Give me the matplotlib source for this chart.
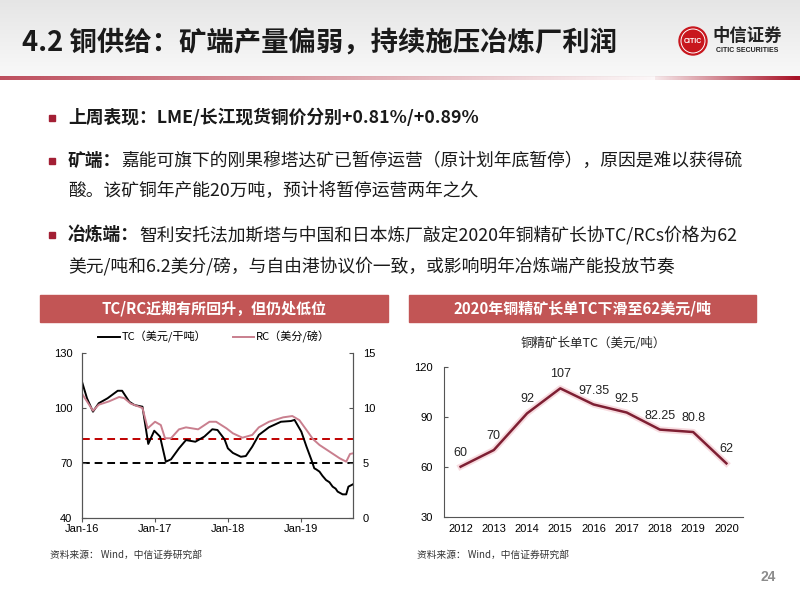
import matplotlib

matplotlib.use('Agg')
import matplotlib.dates as mdates
import matplotlib.pyplot as plt
import numpy as np
import pandas as pd
from matplotlib.patches import Circle, Rectangle

plt.rcParams['font.family'] = ['Noto Sans CJK SC', 'DejaVu Sans']
NUM_FONT = ['Liberation Sans', 'Noto Sans CJK SC', 'DejaVu Sans']

# ---- left chart: TC / RC spot ----
tc_dates = ['2016-01-01', '2016-01-26', '2016-02-25', '2016-03-25', '2016-05-08',
            '2016-06-28', '2016-07-20', '2016-08-25', '2016-09-20', '2016-10-30',
            '2016-11-28', '2016-12-28', '2017-01-26', '2017-02-24', '2017-03-22',
            '2017-05-01', '2017-06-05', '2017-07-22', '2017-09-05', '2017-10-15',
            '2017-11-10', '2017-12-15', '2018-01-01', '2018-01-26', '2018-03-07',
            '2018-04-01', '2018-05-03', '2018-06-05', '2018-07-26', '2018-09-24',
            '2018-11-13', '2018-12-01', '2019-01-04', '2019-01-30', '2019-02-24',
            '2019-03-10', '2019-03-20', '2019-04-05', '2019-04-20', '2019-05-08',
            '2019-05-25', '2019-06-10', '2019-06-25', '2019-07-05', '2019-07-30',
            '2019-08-17', '2019-08-28', '2019-09-20']
tc_values = [114.3, 105.3, 98.0, 102.6, 105.3,
             109.4, 109.4, 103.4, 101.6, 100.7,
             80.4, 87.6, 84.4, 70.7, 72.0,
             78.0, 82.5, 81.6, 84.4, 88.4,
             88.0, 83.0, 78.0, 75.5, 73.4,
             73.8, 78.9, 85.3, 89.5, 92.5,
             92.9, 93.5, 87.1, 78.9, 71.6,
             67.1, 66.5, 65.3, 63.0, 60.7,
             59.5, 57.1, 56.0, 54.4, 52.9,
             52.9, 57.1, 58.4]

rc_dates = ['2016-01-01', '2016-01-26', '2016-02-25', '2016-03-25', '2016-05-15',
            '2016-07-05', '2016-07-30', '2016-09-01', '2016-10-30', '2016-11-25',
            '2017-01-01', '2017-01-30', '2017-02-20', '2017-03-22', '2017-05-01',
            '2017-06-05', '2017-08-05', '2017-10-01', '2017-11-03', '2017-12-25',
            '2018-01-26', '2018-03-15', '2018-05-03', '2018-06-05', '2018-07-26',
            '2018-10-05', '2018-11-20', '2018-12-25', '2019-01-30', '2019-03-03',
            '2019-04-05', '2019-05-26', '2019-07-15', '2019-08-17', '2019-09-05',
            '2019-09-20']
rc_values = [11.3, 10.6, 9.75, 10.3, 10.6,
             11.0, 10.9, 10.4, 10.0, 8.15,
             8.75, 8.45, 7.25, 7.25, 8.06,
             8.24, 8.06, 8.75, 8.75, 8.15,
             7.7, 7.3, 7.55, 8.24, 8.75,
             9.15, 9.27, 8.9, 8.0, 7.18,
             6.64, 6.03, 5.43, 5.12, 5.82,
             5.88]

tc_floor = 70      # black dashed, left axis
rc_floor = 83      # red dashed, left axis

# ---- right chart: annual benchmark TC ----
years = ['2012', '2013', '2014', '2015', '2016', '2017', '2018', '2019', '2020']
benchmark_tc = [60, 70, 92, 107, 97.35, 92.5, 82.25, 80.8, 62]

title = '4.2 铜供给：矿端产量偏弱，持续施压冶炼厂利润'
bullets = [
    ('上周表现：LME/长江现货铜价分别+0.81%/+0.89%', ''),
    ('矿端：', '嘉能可旗下的刚果穆塔达矿已暂停运营（原计划年底暂停），原因是难以获得硫'),
    (None, '酸。该矿铜年产能20万吨，预计将暂停运营两年之久'),
    ('冶炼端：', '智利安托法加斯塔与中国和日本炼厂敲定2020年铜精矿长协TC/RCs价格为62'),
    (None, '美元/吨和6.2美分/磅，与自由港协议价一致，或影响明年冶炼端产能投放节奏'),
]
bullet_y = [117.5, 160.5, 190.5, 235, 266.5]

RED = '#A31F34'
BANNER = '#C25555'

fig = plt.figure(figsize=(8, 6), dpi=100)
fig.patch.set_facecolor('white')

# pixel-space canvas for the slide decoration
bg = fig.add_axes([0, 0, 1, 1], zorder=0)
bg.set_xlim(0, 800)
bg.set_ylim(600, 0)
bg.axis('off')

# header shading and the fading red rule
shade = np.linspace(0.90, 0.975, 60)[:, None, None] * np.ones((1, 2, 3))
bg.imshow(shade, extent=[0, 800, 77, 0], aspect='auto', zorder=0)
xs = np.arange(800)
alpha = np.where(xs < 655, 0.75 - 0.72 * xs / 655,
                 np.clip(0.1 + 0.9 * (xs - 655) / 140, 0, 1))
rule = np.zeros((1, 800, 4))
rule[..., 0], rule[..., 1], rule[..., 2] = 0.66, 0.08, 0.16
rule[..., 3] = alpha
bg.imshow(rule, extent=[0, 800, 80, 76], aspect='auto', zorder=1)

bg.text(22, 44, title, fontsize=19.7, weight='bold', va='center', color='#1a1a1a')

# logo
bg.add_patch(Circle((693, 41), 14, color='#C8161D', zorder=2))
bg.add_patch(Circle((693, 41), 12, fill=False, ec='white', lw=0.7, zorder=3))
bg.text(693, 41.5, 'CITIC', fontsize=5, weight='bold', color='white',
        ha='center', va='center', family=['Liberation Sans Narrow'] + NUM_FONT, zorder=4)
bg.text(747.5, 36, '中信证券', fontsize=12.5, weight='bold', color='#222222',
        ha='center', va='center')
bg.text(747.5, 50, 'CITIC SECURITIES', fontsize=5, weight='bold', color='#222222',
        ha='center', va='center', family=NUM_FONT)

# bullet text
renderer = fig.canvas.get_renderer()
for (head, body), y in zip(bullets, bullet_y):
    x0 = 68
    if head is not None:
        bg.add_patch(Rectangle((49, y - 3), 6, 6, color=RED))
        t = bg.text(x0, y, head, fontsize=12.8, weight='bold', va='center', color='#1a1a1a')
        x0 += t.get_window_extent(renderer=renderer).width
    if body:
        bg.text(x0, y, body, fontsize=12.8, va='center', color='#1a1a1a')

# chart banners
for x0, x1, label in [(40, 388, 'TC/RC近期有所回升，但仍处低位'),
                      (409, 756, '2020年铜精矿长单TC下滑至62美元/吨')]:
    bg.add_patch(Rectangle((x0, 295), x1 - x0, 27, color=BANNER))
    bg.text((x0 + x1) / 2, 308.5, label, fontsize=10.8, weight='bold', color='white',
            ha='center', va='center')

for x in (50, 417):
    bg.text(x, 555, '资料来源： Wind，中信证券研究部', fontsize=7, color='#333333', va='center')
bg.text(768, 577, '24', fontsize=10, weight='bold', color='#8c8c8c', ha='center', va='center',
        family=NUM_FONT)

# ---- left chart ----
ax1 = fig.add_axes([82 / 800, 1 - 518 / 600, 271 / 800, 165 / 600], zorder=2)
ax1.patch.set_alpha(0)
tc_x = pd.to_datetime(tc_dates)
rc_x = pd.to_datetime(rc_dates)
ax1.axhline(tc_floor, color='black', lw=1.4, ls=(0, (4, 2.5)), zorder=1)
ax1.axhline(rc_floor, color='#C00000', lw=1.4, ls=(0, (4, 2.5)), zorder=1)
h_tc, = ax1.plot(tc_x, tc_values, color='black', lw=1.4, zorder=3)
ax1.set_ylim(40, 130)
ax1.set_yticks([40, 70, 100, 130])
ax1.set_xlim(pd.Timestamp('2016-01-01'), pd.Timestamp('2019-09-20'))
ax1.xaxis.set_major_locator(mdates.YearLocator())
ax1.xaxis.set_major_formatter(mdates.DateFormatter('%b-%y'))

ax2 = ax1.twinx()
h_rc, = ax2.plot(rc_x, rc_values, color='#C97F8E', lw=1.4)
ax2.set_ylim(0, 15)
ax2.set_yticks([0, 5, 10, 15])

for a in (ax1, ax2):
    a.spines['top'].set_visible(False)
    for s in a.spines.values():
        s.set_color('#555555')
        s.set_linewidth(0.8)
    a.tick_params(axis='y', direction='in', length=3, labelsize=8, pad=7, color='#555555')
    a.tick_params(axis='x', direction='out', length=3, labelsize=8, pad=1, color='#555555')
    for lab in a.get_xticklabels() + a.get_yticklabels():
        lab.set_family(NUM_FONT)

fig.legend([h_tc, h_rc], ['TC（美元/干吨）', 'RC（美分/磅）'], loc='center',
           bbox_to_anchor=(214 / 800, 1 - 337 / 600), ncol=2, frameon=False,
           fontsize=8, handlelength=1.9, handletextpad=0.15, columnspacing=2.4)

# ---- right chart ----
ax3 = fig.add_axes([444 / 800, 1 - 516.7 / 600, 299 / 800, 150 / 600], zorder=2)
ax3.patch.set_alpha(0)
xi = np.arange(len(years))
ax3.plot(xi, benchmark_tc, color='#F0B8C0', lw=4.5, alpha=0.5, zorder=1)
ax3.plot(xi, benchmark_tc, color='#7E1F33', lw=1.8, zorder=2)
for i, v in zip(xi, benchmark_tc):
    ax3.annotate(f'{v:g}', (i, v), xytext=(0, 10), textcoords='offset points',
                 ha='center', va='center', fontsize=9, color='#222222', family=NUM_FONT)
ax3.set_xlim(-0.5, len(years) - 0.5)
ax3.set_ylim(30, 120)
ax3.set_yticks([30, 60, 90, 120])
ax3.set_xticks(xi)
ax3.set_xticklabels(years)
for s in ('top', 'right'):
    ax3.spines[s].set_visible(False)
for s in ('left', 'bottom'):
    ax3.spines[s].set_color('#555555')
    ax3.spines[s].set_linewidth(0.8)
ax3.tick_params(axis='y', direction='in', length=3, labelsize=8, pad=8, color='#555555')
ax3.tick_params(axis='x', length=0, labelsize=8, pad=5)
for lab in ax3.get_xticklabels() + ax3.get_yticklabels():
    lab.set_family(NUM_FONT)
ax3.set_title('铜精矿长单TC（美元/吨）', fontsize=9, pad=14, color='#222222')

fig.savefig('out.png', dpi=100)
